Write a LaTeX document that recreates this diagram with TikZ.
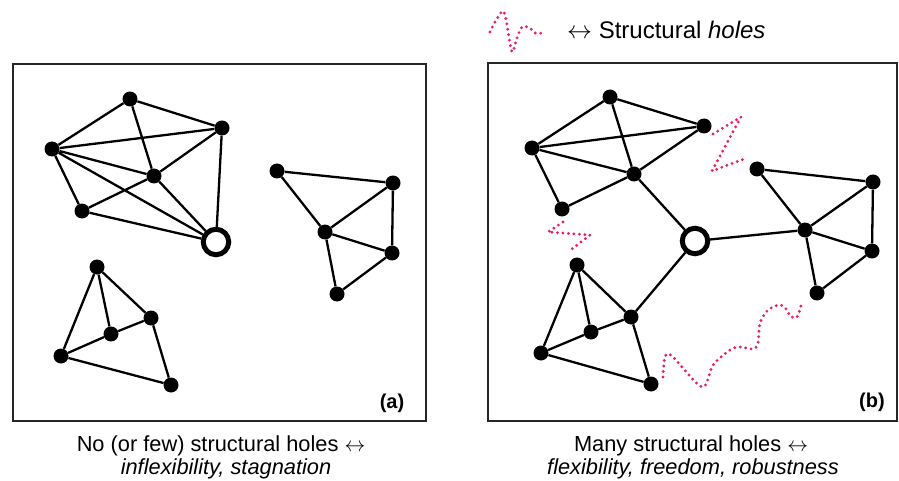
\documentclass[tikz,border=0pt]{standalone}
\usepackage{fontspec}
\setmainfont{Liberation Sans}
\usetikzlibrary{backgrounds}
\definecolor{holepink}{RGB}{232,36,96}
\begin{document}
\begin{tikzpicture}[x=1pt,y=-1pt,
  dot/.style={circle,fill=black,inner sep=0pt,minimum size=15pt},
  hub/.style={circle,draw=black,line width=5pt,fill=white,inner sep=0pt,minimum size=25.5pt},
  edge/.style={line width=2.3pt,black},
  panel/.style={draw=black!85,line width=1.6pt},
  hole/.style={draw=holepink,line width=3.2pt,line cap=round,dash pattern=on 0pt off 5.5pt},
  lab/.style={font=\bfseries\fontsize{20}{24}\selectfont,inner sep=0pt},
  captext/.style={font=\fontsize{21.8}{25}\selectfont,inner sep=0pt,anchor=base}]
\useasboundingbox (0,0) rectangle (899,481);
% panels
\draw[panel] (13,64) rectangle (426,421);
\draw[panel] (488,63) rectangle (897,421);
% ---------- panel (a) ----------
\node[dot] (a1) at (130,99) {};
\node[dot] (a2) at (222,128) {};
\node[dot] (a3) at (52,149) {};
\node[dot] (a4) at (154,176) {};
\node[dot] (a5) at (82,211) {};
\node[hub] (ao) at (216,242) {};
\node[dot] (b1) at (277,171) {};
\node[dot] (b2) at (393,183) {};
\node[dot] (b3) at (325,232) {};
\node[dot] (b4) at (392,253) {};
\node[dot] (b5) at (337,294) {};
\node[dot] (c1) at (97,267) {};
\node[dot] (c2) at (151,318) {};
\node[dot] (c3) at (111,334) {};
\node[dot] (c4) at (61,356) {};
\node[dot] (c5) at (171,385) {};
\node[lab] (la) at (392,403) {(a)};
% ---------- panel (b) ----------
\node[dot] (d1) at (610,97) {};
\node[dot] (d2) at (704,126) {};
\node[dot] (d3) at (532,148) {};
\node[dot] (d4) at (634,174) {};
\node[dot] (d5) at (562,209) {};
\node[hub] (bo) at (695,241) {};
\node[dot] (e1) at (757,169) {};
\node[dot] (e2) at (873,182) {};
\node[dot] (e3) at (805,230) {};
\node[dot] (e4) at (872,251) {};
\node[dot] (e5) at (817,293) {};
\node[dot] (f1) at (577,265) {};
\node[dot] (f2) at (631,317) {};
\node[dot] (f3) at (591,332) {};
\node[dot] (f4) at (541,353) {};
\node[dot] (f5) at (651,384) {};
\node[lab] (lb) at (872,402) {(b)};
\begin{pgfonlayer}{background}
\draw[edge] (a3)--(a1) (a1)--(a2) (a3)--(a2) (a1)--(a4) (a3)--(a4) (a3)--(a5)
  (a3)--(ao) (a5)--(a4) (a4)--(a2) (a2)--(ao) (a4)--(ao) (a5)--(ao);
\draw[edge] (b1)--(b2) (b1)--(b3) (b2)--(b3) (b2)--(b4) (b3)--(b4) (b3)--(b5) (b4)--(b5);
\draw[edge] (c1)--(c4) (c1)--(c3) (c1)--(c2) (c3)--(c2) (c4)--(c3) (c4)--(c5) (c2)--(c5);
\draw[edge] (d3)--(d1) (d1)--(d2) (d3)--(d2) (d1)--(d4) (d3)--(d4) (d3)--(d5)
  (d5)--(d4) (d4)--(d2) (d4)--(bo);
\draw[edge] (e1)--(e2) (e1)--(e3) (e2)--(e3) (e2)--(e4) (e3)--(e4) (e3)--(e5) (e4)--(e5) (bo)--(e3);
\draw[edge] (f1)--(f4) (f1)--(f3) (f1)--(f2) (f3)--(f2) (f4)--(f3) (f4)--(f5) (f2)--(f5) (f2)--(bo);
\end{pgfonlayer}
% structural holes
\draw[hole] (713,134) -- (741,117) -- (712,171) -- (744,159);
\draw[hole] (563,222) -- (548,232) -- (590,235) -- (572,249);
\draw[hole] plot[smooth,tension=0.5] coordinates {(663,377) (665,357) (672,356) (702,387) (713,365) (730,350) (740,347) (753,349) (758,343) (760,323) (768,310) (780,305) (787,310) (790,316) (797,317) (802,302)};
% legend
\draw[hole] plot[smooth,tension=0.5] coordinates {(490,32) (495,22) (503,11) (507,25) (512,52) (517,38) (522,27) (530,28) (535,33) (543,33)};
\node[font=\fontsize{24}{28}\selectfont,inner sep=0pt,anchor=base west] (leg) at (567,39) {$\leftrightarrow$ Structural \textit{holes}};
% captions
\node[captext] (ca1) at (221,451) {No (or few) structural holes $\leftrightarrow$};
\node[captext] (ca2) at (226,474) {\textit{inflexibility, stagnation}};
\node[captext] (cb1) at (691,451) {Many structural holes $\leftrightarrow$};
\node[captext] (cb2) at (693,474) {\textit{flexibility, freedom, robustness}};
\end{tikzpicture}
\end{document}
